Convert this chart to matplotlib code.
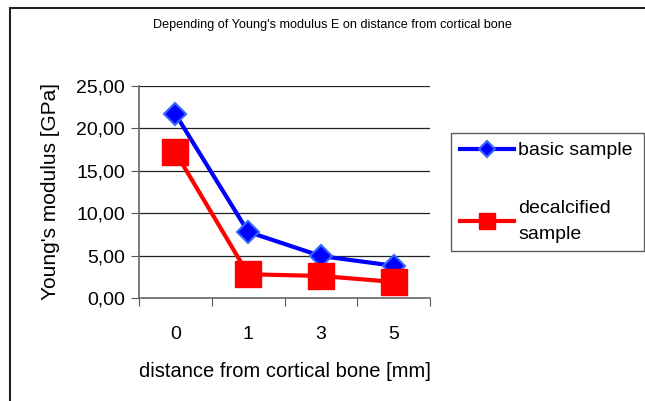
import matplotlib
matplotlib.use("Agg")
import matplotlib.pyplot as plt
from matplotlib.lines import Line2D
from matplotlib.patches import Rectangle

categories = ["0", "1", "3", "5"]
basic = [21.7, 7.8, 4.95, 3.8]
decalcified = [17.2, 2.8, 2.6, 1.9]
yticks = [0, 5, 10, 15, 20, 25]
ytick_labels = ["0,00", "5,00", "10,00", "15,00", "20,00", "25,00"]

plt.rcParams['font.family'] = ['Liberation Sans', 'DejaVu Sans']

fig = plt.figure(figsize=(6.45, 4.01), dpi=100)
ax = fig.add_axes([139/645, 1-298/401, 291/645, 212/401])

x = list(range(len(categories)))
ax.plot(x, basic, color="#0000FF", lw=3, marker="D", ms=11,
        mfc="#0000FF", mec="#3366FF", mew=1.5, zorder=3)
ax.plot(x, decalcified, color="#FF0000", lw=3, marker="s", ms=19,
        mfc="#FF0000", mec="#FF0000", zorder=4)

ax.set_xlim(-0.5, len(categories) - 0.5)
ax.set_ylim(0, 25)
ax.set_yticks(yticks)
ax.set_yticklabels(ytick_labels, fontsize=14)
ax.set_xticks([i - 0.5 for i in range(len(categories) + 1)])
ax.set_xticklabels([])
ax.set_xticks(x, minor=True)
ax.set_xticklabels(categories, minor=True, fontsize=14)
ax.tick_params(axis="x", which="minor", length=0, pad=20)
ax.tick_params(axis="x", which="major", length=6, direction="out", color="#555555")
ax.tick_params(axis="y", length=6, direction="out", color="#555555", pad=4)
for t in yticks:
    if t > 0:
        ax.axhline(t, color="#222222", lw=0.9, zorder=1)
for s in ["top", "right"]:
    ax.spines[s].set_visible(False)
for s in ["left", "bottom"]:
    ax.spines[s].set_color("#666666")
    ax.spines[s].set_linewidth(1.2)

ax.set_ylabel("Young's modulus [GPa]", fontsize=15, labelpad=12)
ax.set_xlabel("distance from cortical bone [mm]", fontsize=14.5, labelpad=14)

fig.text(332/645, 1-25/401, "Depending of Young's modulus E on distance from cortical bone",
         ha="center", va="center", fontsize=9.1)

h1 = Line2D([], [], color="#0000FF", lw=3, marker="D", ms=8, mfc="#0000FF", mec="#3366FF", mew=1.5)
h2 = Line2D([], [], color="#FF0000", lw=3, marker="s", ms=11, mfc="#FF0000", mec="#FF0000")
leg = fig.legend([h1, h2], ["basic sample", "decalcified\nsample"],
                 loc="upper left", bbox_to_anchor=(451/645, 1-251/401, 193/645, 118/401),
                 mode="expand",
                 fontsize=14, frameon=True, fancybox=False, handlelength=2.8,
                 handletextpad=0.2, labelspacing=2.1, borderpad=0.45, borderaxespad=0)
for t in leg.get_texts():
    t.set_linespacing(1.65)
leg.get_frame().set_edgecolor("#333333")
leg.get_frame().set_linewidth(1.0)

fig.patches.append(Rectangle((10/645, -0.1), 1.2, 1.1 - 8/401, transform=fig.transFigure,
                             fill=False, edgecolor="#222222", lw=1.5))

fig.savefig("out.png", dpi=100)
